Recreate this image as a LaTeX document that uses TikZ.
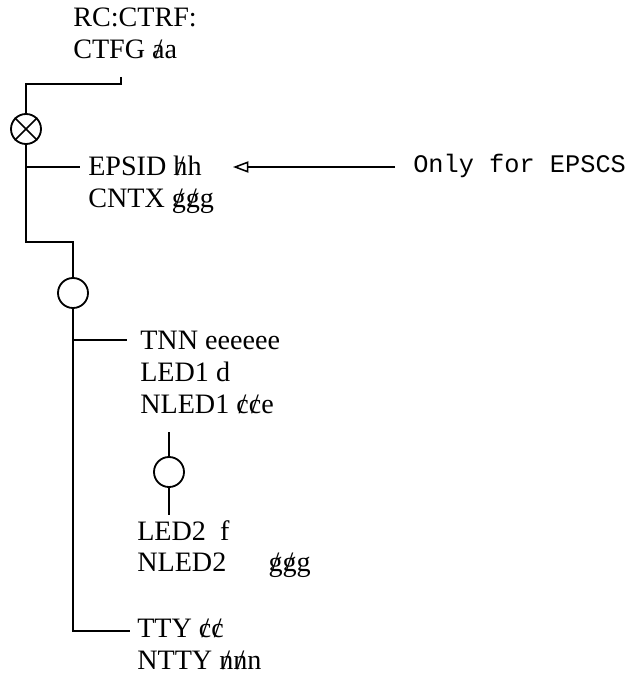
\documentclass[tikz,border=0pt]{standalone}
\usepackage{fontspec}
\setmainfont{Liberation Serif}
\setmonofont{Liberation Mono}
\usepackage{tikz}
\usetikzlibrary{arrows.meta,positioning}

\newcommand\strk[1]{\ooalign{#1\cr\hidewidth/\hidewidth\cr}}

\begin{document}
\begin{tikzpicture}[x=0.025cm, y=-0.025cm,
    wire/.style={line width=1.1pt},
    ring/.style={draw, circle, line width=1.3pt, minimum size=0.75cm, inner sep=0pt},
    lbl/.style={anchor=north west, inner sep=0pt, align=left,
                font=\fontsize{20}{22.6}\selectfont},
    note/.style={anchor=west, inner sep=0pt, font=\ttfamily\fontsize{18}{20}\selectfont},
    arr/.style={-{Triangle[open, length=11pt, width=8pt]}, line width=1.1pt},
  ]
    \useasboundingbox (0,0) rectangle (631,676);
    % record head
    \node[lbl] (rc) at (73,8) {RC:CTRF:\\CTFG \strk{a}a};
    \coordinate (top) at (121,77);
    \node[ring] (mix) at (26,129) {};
    \draw[wire] (mix.45) -- (mix.225) (mix.135) -- (mix.315);
    \draw[wire] (top) -- (121,84) -| (mix.north);
    % EPSCS part
    \node[lbl] (eps) at (88,156) {EPSID \strk{h}h\\CNTX \strk{g}\strk{g}g};
    \coordinate (j1) at (26,167);
    \coordinate (e1) at (80,167);
    \draw[wire] (j1) -- (e1);
    \node[note] (only) at (413,166) {Only for EPSCS};
    \coordinate (src) at (395,167);
    \coordinate (tip) at (233,167);
    \draw[arr] (src) -- (tip);
    % terminal part
    \node[ring] (sel) at (73,293) {};
    \draw[wire] (mix.south) -- (26,242) -| (sel.north);
    \node[lbl] (tnn) at (140,331) {TNN eeeeee\\LED1 d\\NLED1 \strk{c}\strk{c}e};
    \coordinate (j2) at (73,340);
    \coordinate (e2) at (127,340);
    \draw[wire] (j2) -- (e2);
    \node[ring] (led) at (169,472) {};
    \coordinate (up) at (169,432);
    \coordinate (dn) at (169,515);
    \draw[wire] (up) -- (led.north) (led.south) -- (dn);
    \node[lbl] (led2) at (137,520) {LED2\ \ f\\NLED2\hspace{1.5em}\strk{g}\strk{g}g};
    \node[lbl] (tty) at (137,619) {TTY \strk{c}\strk{c}\\NTTY \strk{n}\strk{n}n};
    \coordinate (j3) at (73,631);
    \coordinate (e3) at (130,631);
    \draw[wire] (sel.south) -- (j3) -- (e3);
  \end{tikzpicture}
\end{document}
